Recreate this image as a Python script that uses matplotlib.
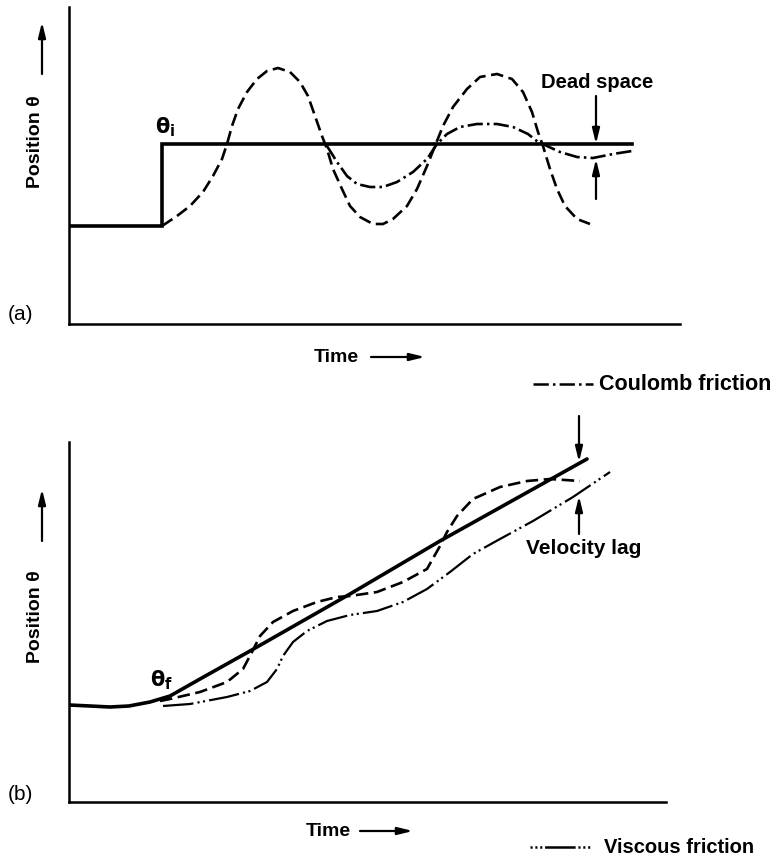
import matplotlib
matplotlib.use('Agg')
import matplotlib.pyplot as plt

plt.rcParams['font.family'] = ['Liberation Sans', 'DejaVu Sans']
plt.rcParams['lines.scale_dashes'] = False

W, H = 776, 862

# ---- (a) step input: reference, free response, Coulomb friction ----
a_ref_t = [0, 93, 93, 563]
a_ref_pos = [98, 98, 180, 180]

a_free_t = [93, 108, 121, 134, 144, 153, 158, 163, 169, 178, 188, 198, 209, 221,
            231, 239, 246, 253, 258, 264, 273, 281, 291, 304, 314, 324, 338, 348,
            358, 366, 374, 384, 398, 411, 428, 443, 454, 463, 469, 474, 481, 488,
            496, 508, 521]
a_free_pos = [98, 108, 118, 132, 148, 165, 180, 198, 215, 232, 245, 253, 256, 252,
              242, 228, 208, 188, 175, 155, 135, 118, 107, 100, 100, 105, 118, 135,
              158, 178, 198, 217, 235, 247, 250, 245, 232, 212, 192, 178, 155, 135,
              118, 105, 100]

a_coul_t = [258, 268, 278, 288, 301, 314, 328, 344, 358, 368, 378, 391, 408, 428,
            444, 459, 469, 478, 491, 508, 524, 544, 563]
a_coul_pos = [178, 162, 148, 140, 137, 137, 142, 152, 165, 180, 190, 197, 200, 200,
              197, 190, 182, 178, 172, 167, 166, 170, 173]

a_dead_t = 527
a_dead_pos = [180, 165]

# ---- (b) ramp input: reference, free response, viscous friction ----
b_ref_t = [0, 21, 41, 60, 81, 101, 131, 181, 281, 371, 518]
b_ref_pos = [97, 96, 95, 96, 100, 106, 123, 151, 208, 261, 343]

b_free_t = [91, 101, 131, 158, 174, 183, 191, 204, 224, 248, 268, 281, 308, 334,
            358, 371, 378, 388, 404, 431, 458, 481, 511]
b_free_pos = [101, 103, 110, 120, 133, 150, 166, 180, 191, 200, 205, 206, 210, 220,
              233, 256, 270, 286, 303, 315, 321, 323, 321]

b_visc_t = [94, 121, 158, 181, 198, 208, 214, 224, 238, 258, 281, 308, 334, 358,
            381, 404, 431, 464, 504, 541]
b_visc_pos = [96, 98, 105, 111, 120, 133, 146, 160, 171, 181, 187, 191, 200, 213,
              230, 248, 263, 281, 305, 330]

b_lag_t = 510
b_lag_pos = [340, 306]

DASHED = (0, (9, 4))
COULOMB = (0, (11, 3, 1.8, 3))
VISCOUS = (0, (22, 3, 1.5, 2.5, 1.5, 3))
VISCOUS_KEY = (0, (1.5, 2, 1.5, 2, 1.5, 2, 22, 2, 1.5, 2, 1.5, 2, 1.5, 6))
HEAD = '-|>,head_length=0.9,head_width=0.22'


def fp(px, py):
    # pixel position (from top-left) -> figure fraction
    return px / W, 1 - py / H


def bold(size):
    return dict(fontsize=size, fontweight='bold', color='black')


def setup_axes(ax, xmax, ymax):
    ax.set_xlim(0, xmax)
    ax.set_ylim(0, ymax)
    for side in ['top', 'right']:
        ax.spines[side].set_visible(False)
    for side in ['left', 'bottom']:
        ax.spines[side].set_linewidth(1.8)
    ax.set_xticks([])
    ax.set_yticks([])
    ax.patch.set_alpha(0)


def fig_arrow(ax, start, end, lw=1.6):
    ax.annotate('', xy=fp(*end), xycoords='figure fraction',
                xytext=fp(*start), textcoords='figure fraction',
                arrowprops=dict(arrowstyle=HEAD, lw=lw, color='black',
                                shrinkA=0, shrinkB=0),
                annotation_clip=False)


def data_arrow(ax, t, p0, p1):
    ax.annotate('', xy=(t, p1), xytext=(t, p0),
                arrowprops=dict(arrowstyle=HEAD, lw=1.6, color='black',
                                shrinkA=0, shrinkB=0),
                annotation_clip=False)


fig = plt.figure(figsize=(W / 100, H / 100), dpi=100)

# panel (a)
ax1 = fig.add_axes([69 / W, 1 - 325 / H, 611 / W, 317 / H])
setup_axes(ax1, 611, 317)
ax1.plot(a_ref_t, a_ref_pos, color='black', lw=2.6, solid_joinstyle='miter')
ax1.plot(a_free_t, a_free_pos, color='black', lw=1.9, linestyle=DASHED)
ax1.plot(a_coul_t, a_coul_pos, color='black', lw=1.9, linestyle=COULOMB)
ax1.text(96, 198, r'$\mathbf{\theta_i}$', ha='center', va='center', fontsize=15)
data_arrow(ax1, a_dead_t, a_dead_pos[0] + 48, a_dead_pos[0])
data_arrow(ax1, a_dead_t, a_dead_pos[1] - 40, a_dead_pos[1])
ax1.text(a_dead_t + 1, 242, 'Dead space', ha='center', va='center', **bold(14.5))

# panel (b)
ax2 = fig.add_axes([69 / W, 1 - 803 / H, 597 / W, 360 / H])
setup_axes(ax2, 597, 360)
ax2.plot(b_ref_t, b_ref_pos, color='black', lw=2.6, solid_capstyle='round')
ax2.plot(b_free_t, b_free_pos, color='black', lw=1.9, linestyle=DASHED)
ax2.plot(b_visc_t, b_visc_pos, color='black', lw=1.6, linestyle=VISCOUS)
ax2.text(92, 123, r'$\mathbf{\theta_f}$', ha='center', va='center', fontsize=15)
data_arrow(ax2, b_lag_t, b_lag_pos[0] + 46, b_lag_pos[0])
data_arrow(ax2, b_lag_t, b_lag_pos[1] - 38, b_lag_pos[1])
ax2.text(b_lag_t + 5, 255, 'Velocity lag', ha='center', va='center', **bold(15))

# axis labels with arrows
for cy, (a0, a1) in [(142, (75, 23)), (617, (542, 490))]:
    fig.text(*fp(35, cy), 'Position θ', rotation=90, ha='center', va='center',
             **bold(14))
    fig_arrow(ax1, (42, a0), (42, a1))

for (tx, ty), (a0, a1) in [((336, 358), (371, 425)), ((328, 832), (360, 413))]:
    fig.text(*fp(tx, ty), 'Time', ha='center', va='center', **bold(14))
    fig_arrow(ax1, (a0, ty), (a1, ty))

fig.text(*fp(8, 314), '(a)', ha='left', va='center', fontsize=15, color='black')
fig.text(*fp(8, 795), '(b)', ha='left', va='center', fontsize=15, color='black')

# line style keys
for (x0, x1, y), style, label, size in [
        ((533, 593, 385), COULOMB, 'Coulomb friction', 15.5),
        ((530, 598, 848), VISCOUS_KEY, 'Viscous friction', 14.5)]:
    key = plt.Line2D([x0 / W, x1 / W], [1 - y / H, 1 - y / H],
                     transform=fig.transFigure, color='black', lw=1.8,
                     linestyle=style)
    fig.add_artist(key)
    fig.text(*fp(x1 + 6, y), label, ha='left', va='center', **bold(size))

fig.savefig('out.png', dpi=100, facecolor='white')
